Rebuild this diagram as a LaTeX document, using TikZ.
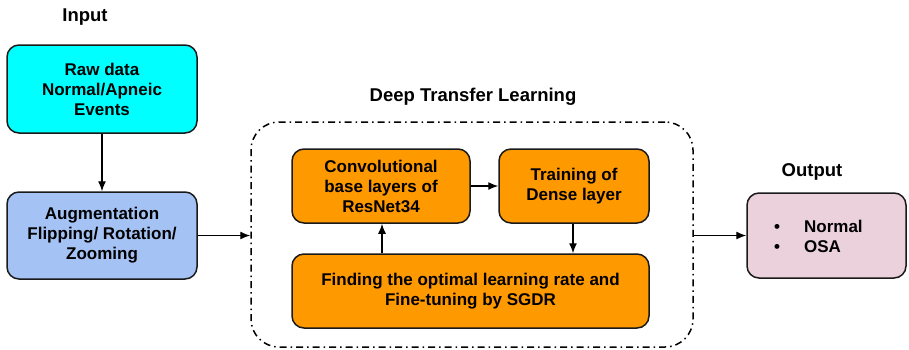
\documentclass[tikz,border=0pt]{standalone}
\usepackage{fontspec}
\setmainfont{Liberation Sans}
\usetikzlibrary{arrows.meta}
\definecolor{cyanbox}{HTML}{00FFFF}
\definecolor{bluebox}{HTML}{A4C2F4}
\definecolor{orangebox}{HTML}{FF9900}
\definecolor{pinkbox}{HTML}{EAD1DC}
\definecolor{edge}{HTML}{1A1A1A}
\tikzset{
  box/.style={draw=edge, line width=1.5pt, rounded corners=12pt, align=center,
    font=\fontsize{17}{20}\selectfont\bfseries, inner sep=0pt},
  title/.style={font=\fontsize{18.5}{22}\selectfont\bfseries, inner sep=0pt},
  arr/.style={draw=black, line width=1.3pt, -{Latex[length=10pt,width=8pt]}},
}
\begin{document}
\begin{tikzpicture}[x=1pt,y=-1pt]
\useasboundingbox (0,0) rectangle (909,349);
% titles
\node[title] (tin) at (85,17) {Input};
\node[title] (tdtl) at (473,97) {Deep Transfer Learning};
\node[title] (tout) at (812,172) {Output};
% input boxes
\node[box, fill=cyanbox, minimum width=190pt, minimum height=88pt] (raw) at (102,89)
  {Raw data\\Normal/Apneic\\Events};
\node[box, fill=bluebox, minimum width=190pt, minimum height=87pt] (aug) at (102,235.5)
  {Augmentation\\Flipping/ Rotation/\\Zooming};
% dashed container
\node[draw=black, line width=1.5pt, dash pattern=on 7pt off 4pt on 1.5pt off 4pt,
  rounded corners=28pt, minimum width=442pt, minimum height=225pt, inner sep=0pt] (dtl) at (472,234.5) {};
% inner boxes
\node[box, fill=orangebox, minimum width=178pt, minimum height=74pt] (conv) at (381,186)
  {Convolutional\\base layers of\\ResNet34};
\node[box, fill=orangebox, minimum width=150pt, minimum height=74pt] (train) at (574,186)
  {Training of\\Dense layer};
\node[box, fill=orangebox, minimum width=357pt, minimum height=74pt] (find) at (470.5,291)
  {Finding the optimal learning rate and\\Fine-tuning by SGDR};
% output
\node[box, fill=pinkbox, minimum width=159pt, minimum height=85pt] (out) at (826.5,235.5) {};
\node[font=\fontsize{17}{20}\selectfont\bfseries, align=left, anchor=west, inner sep=0pt] (outtxt) at (774,236)
  {\textbullet\hspace{24pt}Normal\\\textbullet\hspace{24pt}OSA};
% arrows
\draw[arr] (raw) -- (aug);
\draw[arr] (aug.east) -- (dtl.west |- aug.east);
\draw[arr] (conv.east) -- (train.west);
\draw[arr] (train.south -| 573,0) -- (find.north -| 573,0);
\draw[arr] (find.north -| 382,0) -- (conv.south -| 382,0);
\draw[arr] (dtl.east |- out.west) -- (out.west);
\end{tikzpicture}
\end{document}
